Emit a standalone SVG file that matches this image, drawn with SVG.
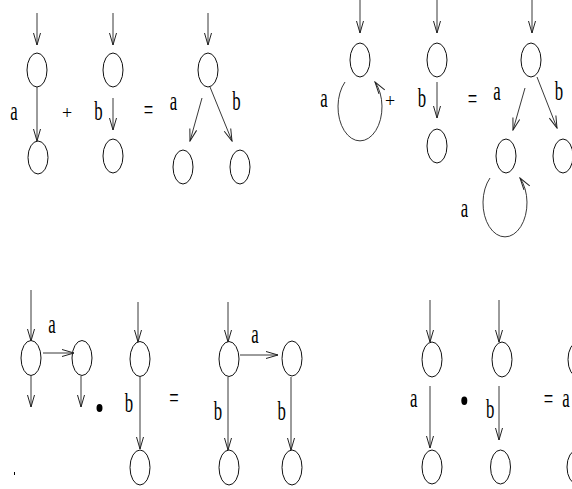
<svg xmlns="http://www.w3.org/2000/svg" width="572" height="489" viewBox="0 0 572 489">
<defs>
<marker id="ah" markerUnits="userSpaceOnUse" markerWidth="14" markerHeight="10" viewBox="-13 -5 14 10" refX="0" refY="0" orient="auto">
<path d="M-12,-3.5 L0,0 L-12,3.5" fill="none" stroke="#222" stroke-width="1"/>
</marker>
<style>
.n{fill:none;stroke:#111;stroke-width:1}
.e{fill:none;stroke:#222;stroke-width:0.9;marker-end:url(#ah)}
.t{font-family:"Liberation Serif","Times New Roman",serif;font-size:27px;fill:#000;text-anchor:middle}
.p{font-family:"Liberation Serif","Times New Roman",serif;font-size:18px;fill:#000;text-anchor:middle}
.d{fill:#000}
</style>
</defs>
<rect width="572" height="489" fill="#fff"/>
<!-- Panel 1 nodes -->
<g id="n1"><ellipse class="n" cx="37" cy="70" rx="10" ry="17"/></g>
<g id="n2"><ellipse class="n" cx="38" cy="157.5" rx="10" ry="16.5"/></g>
<g id="n3"><ellipse class="n" cx="113" cy="70" rx="10" ry="17"/></g>
<g id="n4"><ellipse class="n" cx="113" cy="156" rx="10" ry="17"/></g>
<g id="n5"><ellipse class="n" cx="208" cy="70" rx="10" ry="17"/></g>
<g id="n6"><ellipse class="n" cx="183" cy="167" rx="10" ry="17"/></g>
<g id="n7"><ellipse class="n" cx="240" cy="167" rx="10" ry="17"/></g>
<!-- Panel 2 nodes -->
<g id="m1"><ellipse class="n" cx="360" cy="60" rx="10" ry="17"/></g>
<g id="m2"><ellipse class="n" cx="437" cy="60" rx="10" ry="17"/></g>
<g id="m3"><ellipse class="n" cx="437" cy="146" rx="10" ry="17"/></g>
<g id="m4"><ellipse class="n" cx="531" cy="60" rx="10" ry="17"/></g>
<g id="m5"><ellipse class="n" cx="506" cy="156" rx="10" ry="17"/></g>
<g id="m6"><ellipse class="n" cx="563" cy="156" rx="10" ry="17"/></g>
<!-- Panel 3 nodes -->
<g id="p1"><ellipse class="n" cx="31" cy="358" rx="10" ry="17.5"/></g>
<g id="p2"><ellipse class="n" cx="82" cy="358" rx="10" ry="17.5"/></g>
<g id="p3"><ellipse class="n" cx="140" cy="359" rx="10" ry="17.5"/></g>
<g id="p4"><ellipse class="n" cx="140" cy="467.5" rx="10" ry="17.5"/></g>
<g id="p5"><ellipse class="n" cx="229" cy="359" rx="10" ry="17.5"/></g>
<g id="p6"><ellipse class="n" cx="292" cy="358.5" rx="10" ry="17.5"/></g>
<g id="p7"><ellipse class="n" cx="229" cy="467.5" rx="10" ry="17.5"/></g>
<g id="p8"><ellipse class="n" cx="292" cy="467.5" rx="10" ry="17.5"/></g>
<!-- Panel 4 nodes -->
<g id="q1"><ellipse class="n" cx="432" cy="359.5" rx="10" ry="17.5"/></g>
<g id="q2"><ellipse class="n" cx="432" cy="467" rx="10" ry="17"/></g>
<g id="q3"><ellipse class="n" cx="502" cy="359.5" rx="10" ry="17.5"/></g>
<g id="q4"><ellipse class="n" cx="500.5" cy="467" rx="10" ry="17"/></g>
<g id="q5"><ellipse class="n" cx="578" cy="359.5" rx="10" ry="17.5"/></g>
<g id="q6"><ellipse class="n" cx="577" cy="467" rx="10" ry="17"/></g>
<!-- Connectors -->
<g id="connectors">
<path class="e" d="M37,13 L37,45"/>
<path class="e" d="M37,87 L37,141"/>
<path class="e" d="M113,13 L113,45"/>
<path class="e" d="M113,98 L113,130"/>
<path class="e" d="M208,13 L208,45"/>
<path class="e" d="M202,98 L190,141"/>
<path class="e" d="M210,87 L232,141"/>
<path class="e" d="M360,0 L360,33"/>
<path class="e" d="M345,82 A22,34 0 1 0 375,82"/>
<path class="e" d="M437,0 L437,33"/>
<path class="e" d="M437,82 L437,118"/>
<path class="e" d="M532,0 L532,33"/>
<path class="e" d="M525,88 L513,130"/>
<path class="e" d="M537,77 L557,128"/>
<path class="e" d="M490,178 A22,34 0 1 0 520,178"/>
<path class="e" d="M31,290 L31,341"/>
<path class="e" d="M43,353 L74,353"/>
<path class="e" d="M31,376 L31,407"/>
<path class="e" d="M81,376 L81,407"/>
<path class="e" d="M138,302 L138,342"/>
<path class="e" d="M140,377 L140,449"/>
<path class="e" d="M228,302 L228,342"/>
<path class="e" d="M240,355 L278,355"/>
<path class="e" d="M228,377 L228,450"/>
<path class="e" d="M291,377 L291,450"/>
<path class="e" d="M430,300 L430,342"/>
<path class="e" d="M430,386 L430,448"/>
<path class="e" d="M499,300 L499,342"/>
<path class="e" d="M499,386 L499,440"/>
</g>
<!-- Labels -->
<g id="labels">
<text class="t" transform="translate(14,120) scale(0.62,1)">a</text>
<text class="p" x="67" y="118.5">+</text>
<text class="t" transform="translate(98.5,120) scale(0.62,1)">b</text>
<text class="t" transform="translate(148.5,118.5) scale(0.62,1)">=</text>
<text class="t" transform="translate(173.5,110) scale(0.62,1)">a</text>
<text class="t" transform="translate(236.5,110) scale(0.62,1)">b</text>
<text class="t" transform="translate(324,107) scale(0.62,1)">a</text>
<text class="p" x="390" y="106.5">+</text>
<text class="t" transform="translate(422,107) scale(0.62,1)">b</text>
<text class="t" transform="translate(472.5,107.5) scale(0.62,1)">=</text>
<text class="t" transform="translate(497,100) scale(0.62,1)">a</text>
<text class="t" transform="translate(559,100) scale(0.62,1)">b</text>
<text class="t" transform="translate(464.5,217) scale(0.62,1)">a</text>
<text class="t" transform="translate(52,333) scale(0.62,1)">a</text>
<text class="t" transform="translate(129,412) scale(0.62,1)">b</text>
<text class="t" transform="translate(174,406.5) scale(0.62,1)">=</text>
<text class="t" transform="translate(255,343) scale(0.62,1)">a</text>
<text class="t" transform="translate(218,420) scale(0.62,1)">b</text>
<text class="t" transform="translate(281.7,420) scale(0.62,1)">b</text>
<text class="t" transform="translate(413.7,407) scale(0.62,1)">a</text>
<text class="t" transform="translate(490.3,418) scale(0.62,1)">b</text>
<text class="t" transform="translate(548.5,408) scale(0.62,1)">=</text>
<text class="t" transform="translate(566,407) scale(0.62,1)">a</text>
</g>
<ellipse class="d" cx="99.5" cy="408" rx="3" ry="4"/>
<ellipse class="d" cx="464.3" cy="400.7" rx="3" ry="4.2"/>
<rect class="d" x="14" y="472" width="1" height="3"/>
</svg>
